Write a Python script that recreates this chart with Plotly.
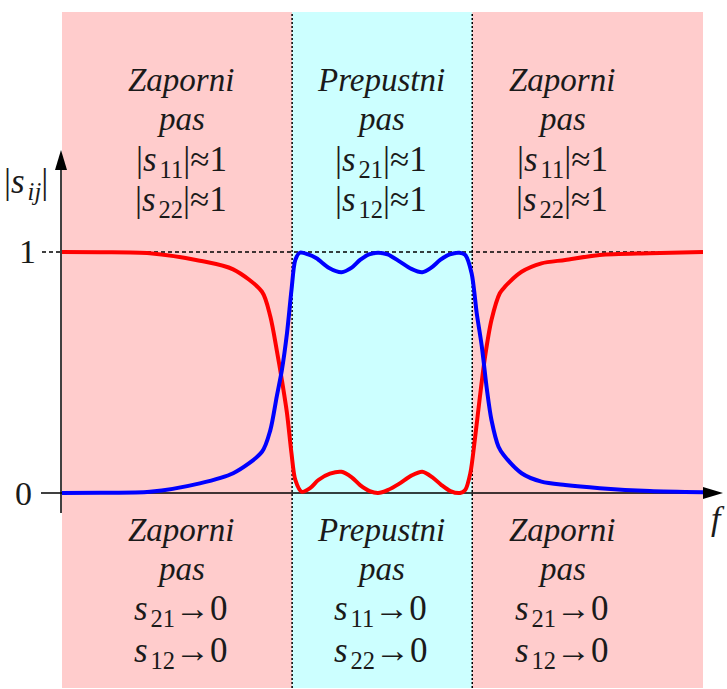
import plotly.graph_objects as go

# frequency axis (normalized, 0..10) and band edges
band_edges = [0.0, 3.59, 6.40, 10.0]
band_colors = ["#ffcccc", "#ccffff", "#ffcccc"]

# |s11| (red)
f_s11 = [0, 0.6, 1.37, 2.15, 2.67, 3.12, 3.25, 3.35, 3.43, 3.51, 3.58, 3.64, 3.74,
         3.87, 4.0, 4.18, 4.36, 4.52, 4.65, 4.80, 4.93, 5.08, 5.27, 5.45, 5.62,
         5.78, 5.92, 6.06, 6.21, 6.29, 6.37, 6.44, 6.52,
         6.60, 6.70, 6.83, 6.91, 7.17, 7.48, 7.85, 8.39, 9.17, 10]
s11 = [1.0, 0.999, 0.995, 0.964, 0.928, 0.835, 0.732, 0.593, 0.469, 0.331, 0.165,
       0.054, 0.005, 0.02, 0.054, 0.080, 0.088, 0.065, 0.033, 0.008, 0.0, 0.012,
       0.04, 0.072, 0.088, 0.065, 0.033, 0.008, 0.0, 0.012,
       0.082, 0.22, 0.40, 0.566, 0.718, 0.829, 0.856, 0.918, 0.953, 0.967, 0.988,
       0.995, 1.0]

# |s21| (blue)
f_s21 = [0, 0.6, 1.37, 2.15, 2.67, 3.12, 3.25, 3.35, 3.43, 3.51, 3.58, 3.64, 3.71,
         3.84, 3.97, 4.16, 4.36, 4.52, 4.65, 4.79, 4.93, 5.08, 5.27, 5.45, 5.62,
         5.76, 5.90, 6.05, 6.20, 6.29, 6.39, 6.47, 6.55,
         6.63, 6.70, 6.81, 6.89, 7.17, 7.48, 7.85, 8.39, 9.17, 10]
s21 = [0.0, 0.001, 0.005, 0.040, 0.082, 0.171, 0.261, 0.40, 0.51, 0.663, 0.842,
       0.967, 0.997, 0.99, 0.974, 0.935, 0.916, 0.935, 0.967, 0.99, 0.997, 0.99,
       0.96, 0.93, 0.916, 0.935, 0.967, 0.99, 0.997, 0.988,
       0.912, 0.746, 0.607, 0.427, 0.303, 0.192, 0.158, 0.082, 0.047, 0.033, 0.02,
       0.008, 0.003]

# region labels (top / bottom)
top_labels = [
    ["<i>Zaporni</i>", "<i>pas</i>", "|<i>s</i>\u200a<sub>11</sub>|≈1", "|<i>s</i>\u200a<sub>22</sub>|≈1"],
    ["<i>Prepustni</i>", "<i>pas</i>", "|<i>s</i>\u200a<sub>21</sub>|≈1", "|<i>s</i>\u200a<sub>12</sub>|≈1"],
    ["<i>Zaporni</i>", "<i>pas</i>", "|<i>s</i>\u200a<sub>11</sub>|≈1", "|<i>s</i>\u200a<sub>22</sub>|≈1"],
]
bottom_labels = [
    ["<i>Zaporni</i>", "<i>pas</i>", "<i>s</i>\u200a<sub>21</sub>→0", "<i>s</i>\u200a<sub>12</sub>→0"],
    ["<i>Prepustni</i>", "<i>pas</i>", "<i>s</i>\u200a<sub>11</sub>→0", "<i>s</i>\u200a<sub>22</sub>→0"],
    ["<i>Zaporni</i>", "<i>pas</i>", "<i>s</i>\u200a<sub>21</sub>→0", "<i>s</i>\u200a<sub>12</sub>→0"],
]

W, H = 727, 689
FONT = "Liberation Serif, Times New Roman, DejaVu Serif, serif"
TXT = "#1a1a1a"


def px(x):
    return x / W


def py(y):
    return 1 - y / H


def label(x, y, text, size=33):
    return dict(x=px(x), y=py(y), xref="paper", yref="paper", text=text, showarrow=False,
                xanchor="center", yanchor="middle", font=dict(family=FONT, size=size, color=TXT))


fig = go.Figure()
fig.add_trace(go.Scatter(x=f_s11, y=s11, mode="lines", line=dict(color="#ff0000", width=4, shape="spline", smoothing=0.8)))
fig.add_trace(go.Scatter(x=f_s21, y=s21, mode="lines", line=dict(color="#0000ff", width=4, shape="spline", smoothing=0.8)))

shapes = []
for i in range(3):
    shapes.append(dict(type="rect", xref="x", yref="paper", x0=band_edges[i], x1=band_edges[i + 1],
                       y0=py(688), y1=py(12), fillcolor=band_colors[i], line_width=0, layer="below"))
# dotted band borders
for e in band_edges[1:3]:
    shapes.append(dict(type="line", xref="x", yref="paper", x0=e, x1=e, y0=py(688), y1=py(12),
                       line=dict(color="black", width=1.5, dash="2px,2px"), layer="below"))
# level 1 reference
shapes.append(dict(type="line", xref="paper", yref="y", x0=px(42), x1=px(703), y0=1, y1=1,
                   line=dict(color="black", width=1.5, dash="4px,3px"), layer="below"))
# axes
shapes.append(dict(type="line", xref="paper", yref="y", x0=px(41), x1=px(706), y0=0, y1=0,
                   line=dict(color="black", width=1.5), layer="below"))
shapes.append(dict(type="path", xref="paper", yref="paper",
                   path=f"M {px(703)} {py(487)} L {px(723)} {py(493)} L {px(703)} {py(499)} Z",
                   fillcolor="black", line_width=0))
shapes.append(dict(type="line", xref="paper", yref="paper", x0=px(61), x1=px(61), y0=py(513), y1=py(168),
                   line=dict(color="black", width=1.5), layer="below"))
shapes.append(dict(type="path", xref="paper", yref="paper",
                   path=f"M {px(55)} {py(170)} L {px(61)} {py(150)} L {px(67)} {py(170)} Z",
                   fillcolor="black", line_width=0))

annotations = []
centers = [181, 381, 562]
top_y = [80, 119, 161, 202]
bot_y = [530, 569, 610, 652]
for c, lines in zip(centers, top_labels):
    for k, (yy, t) in enumerate(zip(top_y, lines)):
        annotations.append(label(c, yy, t, 33 if k < 2 else 35))
for c, lines in zip(centers, bottom_labels):
    for k, (yy, t) in enumerate(zip(bot_y, lines)):
        annotations.append(label(c, yy, t, 33 if k < 2 else 35))

annotations += [
    label(26, 183, "|<i>s</i>\u200a<sub><i>ij</i></sub>|", 35),
    label(27, 251, "1", 34),
    label(24, 493, "0", 34),
    label(718, 518, "<i>f</i>", 34),
]

fig.update_layout(
    width=W, height=H,
    margin=dict(l=0, r=0, t=0, b=0),
    paper_bgcolor="white", plot_bgcolor="white",
    showlegend=False,
    xaxis=dict(range=[-62 / 64.1, (W - 62) / 64.1], visible=False, fixedrange=True),
    yaxis=dict(range=[(493 - H) / 241, 493 / 241], visible=False, fixedrange=True),
    shapes=shapes,
    annotations=annotations,
)

fig.write_html("out.html", config={"displayModeBar": False},
               post_script="document.body.style.margin='0';")
